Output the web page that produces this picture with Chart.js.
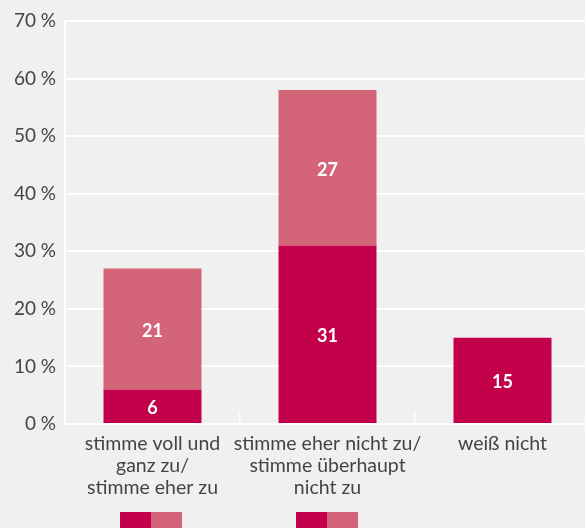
<!DOCTYPE html>
<html lang="de">
<head>
<meta charset="utf-8">
<script src="https://cdn.jsdelivr.net/npm/chart.js@4"></script>
<style>
  html, body { margin: 0; padding: 0; background: #f0f0f0; overflow: hidden; }
</style>
</head>
<body>
<canvas id="chart" width="600" height="560"></canvas>
<script>
// Kategorien (mehrzeilige Achsenbeschriftung)
const kategorien = [
    ['stimme voll und', 'ganz zu/', 'stimme eher zu'],
    ['stimme eher nicht zu/', 'stimme überhaupt', 'nicht zu'],
    ['weiß nicht']
];
// Anteile in Prozent
const werteUnten = [6, 31, 15];
const werteOben = [21, 27, null];
const yTicks = [0, 10, 20, 30, 40, 50, 60, 70];

const farbeDunkel = '#c3004a';
const farbeHell = '#d46477';
const textFarbe = '#444444';
const schrift = 'Lato';

// Legendensymbol: zwei Farbfelder nebeneinander
function legendenSymbol() {
    const c = document.createElement('canvas');
    c.width = 158;
    c.height = 16;
    const g = c.getContext('2d');
    g.fillStyle = farbeDunkel;
    g.fillRect(45, 0, 31, 16);
    g.fillStyle = farbeHell;
    g.fillRect(76, 0, 31, 16);
    return c;
}
const symbol = legendenSymbol();

// Zahlen mittig in die Balkensegmente schreiben
const wertLabels = {
    id: 'wertLabels',
    afterDatasetsDraw(chart) {
        const ctx = chart.ctx;
        ctx.save();
        ctx.font = `bold 18px ${schrift}`;
        ctx.fillStyle = '#ffffff';
        ctx.textAlign = 'center';
        ctx.textBaseline = 'middle';
        chart.data.datasets.forEach((ds, i) => {
            chart.getDatasetMeta(i).data.forEach((bar, j) => {
                const v = ds.data[j];
                if (v === null || v === undefined) return;
                ctx.fillText(String(v), bar.x, (bar.y + bar.base) / 2 + 2);
            });
        });
        ctx.restore();
    }
};

new Chart(document.getElementById('chart'), {
    type: 'bar',
    data: {
        labels: kategorien,
        datasets: [
            {
                label: 'unten',
                data: werteUnten,
                backgroundColor: farbeDunkel,
                categoryPercentage: 1,
                barPercentage: 0.56
            },
            {
                label: 'oben',
                data: werteOben,
                backgroundColor: farbeHell,
                categoryPercentage: 1,
                barPercentage: 0.56
            }
        ]
    },
    options: {
        responsive: false,
        animation: false,
        devicePixelRatio: 1,
        layout: { padding: { top: 21, left: 14, right: 10, bottom: 22 } },
        plugins: {
            tooltip: { enabled: false },
            legend: {
                position: 'bottom',
                align: 'start',
                fullSize: false,
                onClick: null,
                labels: {
                    usePointStyle: true,
                    pointStyleWidth: 158,
                    boxHeight: 16,
                    padding: 10,
                    font: { family: schrift, size: 16 },
                    generateLabels: () => [0, 1].map(i => ({
                        text: '',
                        pointStyle: symbol,
                        datasetIndex: i,
                        hidden: false,
                        lineWidth: 0
                    }))
                }
            }
        },
        scales: {
            x: {
                stacked: true,
                grid: {
                    display: true,
                    drawOnChartArea: false,
                    color: '#ffffff',
                    lineWidth: 1.5,
                    tickLength: -11,
                    offset: true
                },
                border: { display: true, color: '#ffffff', width: 2 },
                ticks: {
                    color: textFarbe,
                    font: { family: schrift, size: 19.5, lineHeight: 1.13 },
                    padding: 20,
                    maxRotation: 0,
                    autoSkip: false
                },
                afterFit: s => { s.height = 78; }
            },
            y: {
                stacked: true,
                min: 0,
                max: 70,
                afterBuildTicks: s => { s.ticks = yTicks.map(v => ({ value: v })); },
                ticks: {
                    color: textFarbe,
                    font: { family: schrift, size: 19, lineHeight: 1.13 },
                    padding: 9,
                    callback: v => v + '\u2005%'
                },
                grid: { color: '#ffffff', lineWidth: 2, drawTicks: false },
                border: { color: '#ffffff', width: 2 },
                afterFit: s => { s.width = 51; }
            }
        }
    },
    plugins: [wertLabels]
});
</script>
</body>
</html>
